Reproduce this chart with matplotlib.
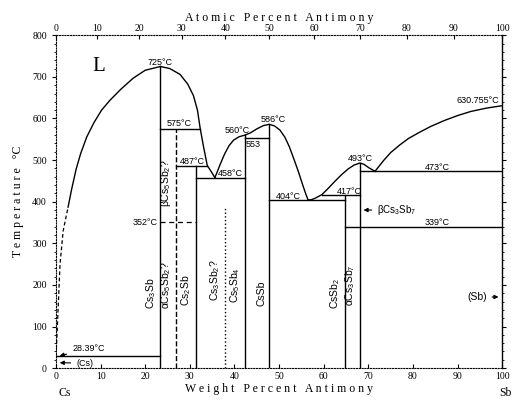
import numpy as np
import matplotlib
matplotlib.use('Agg')
import matplotlib.pyplot as plt

plt.rcParams['mathtext.default'] = 'regular'
SERIF = 'Liberation Serif'
SANS = 'Liberation Sans'

# liquidus curves (wt% Sb, deg C)
liq_dash_wt = [0.0, 0.3, 0.9, 1.6, 2.7]
liq_dash_t = [28.39, 100, 250, 330, 387]
liq1_wt = [2.7, 3.5, 4.5, 5.5, 6.9, 8.5, 10.2, 12.1, 14.5, 17.3, 20.0, 23.4, 25.5, 27.8,
           29.5, 30.8, 31.7, 32.3, 33.1, 33.9, 34.8, 35.6]
liq1_t = [387, 430, 478, 515, 556, 590, 620, 644, 670, 697, 716, 725, 720, 706,
          683, 655, 620, 577, 530, 487, 472, 458]
liq2_wt = [35.6, 36.0, 36.8, 37.8, 38.8, 39.8, 41.0, 42.3, 43.5, 45.0, 46.5, 47.8, 49.0,
           50.2, 51.3, 52.3, 53.3, 54.3, 55.3, 56.0, 56.5]
liq2_t = [458, 468, 490, 515, 535, 548, 556, 560, 565, 575, 583, 586, 582,
          572, 555, 532, 503, 473, 440, 418, 404]
liq3_wt = [56.5, 57.3, 58.2, 59.6, 61.0, 62.5, 64.0, 65.5, 66.8, 68.1, 69.0, 70.2, 71.5]
liq3_t = [404, 405, 409, 417, 432, 449, 465, 479, 488, 493, 490, 481, 473]
liq4_wt = [71.5, 72.3, 73.5, 75.0, 77.0, 79.0, 81.5, 84.0, 87.0, 90.0, 93.0, 96.5, 100.0]
liq4_t = [473, 484, 500, 518, 536, 552, 567, 581, 595, 607, 617, 625, 630.755]

# isotherms: start wt, end wt, temperature
iso_x1 = [0.0, 23.4, 26.8, 31.4, 42.3, 47.8, 59.6, 68.1, 64.7]
iso_x2 = [23.4, 32.3, 33.9, 42.3, 47.8, 64.7, 68.1, 100.0, 100.0]
iso_t = [28.39, 575, 487, 458, 553, 404, 417, 473, 339]

# compounds: wt%, top temperature, line style, label
comp_wt = [23.4, 26.8, 31.4, 37.9, 42.3, 47.8, 64.7, 68.1]
comp_top = [725, 575, 487, 387, 560, 586, 417, 493]
comp_ls = ['-', '--', '-', ':', '-', '-', '-', '-']
comp_lab = ['Cs$_3$Sb', 'αCs$_5$Sb$_2$?', 'Cs$_2$Sb', 'Cs$_3$Sb$_2$?', 'Cs$_5$Sb$_4$',
            'CsSb', 'CsSb$_2$', 'αCs$_3$Sb$_7$']
comp_lab_t = [180, 200, 187, 212, 200, 180, 180, 200]

# temperature labels: wt, temperature, text
lab_wt = [23.4, 27.5, 30.5, 39.0, 40.6, 48.7, 44.2, 52.0, 65.7, 68.2, 85.4, 85.4, 94.5]
lab_t = [735, 587, 497, 468, 570, 598, 538, 413, 425, 505, 483, 349, 644]
lab_txt = ['725°C', '575°C', '487°C', '458°C', '560°C', '586°C', '553', '404°C', '417°C',
           '493°C', '473°C', '339°C', '630.755°C']

at_ticks = np.arange(0, 101, 10)
M_CS, M_SB = 132.905, 121.76


def at2wt(a):
    a = np.asarray(a, dtype=float)
    return 100 * a * M_SB / (a * M_SB + (100 - a) * M_CS)


def wt2at(w):
    w = np.asarray(w, dtype=float)
    return 100 * (w / M_SB) / (w / M_SB + (100 - w) / M_CS)


fig = plt.figure(figsize=(5.14, 4.01), dpi=100)
ax = fig.add_axes([0.109, 0.082, 0.868, 0.830])
ax.set_xlim(0, 100)
ax.set_ylim(0, 800)

lw = 1.0
ax.plot(liq_dash_wt, liq_dash_t, color='k', lw=0.9, ls=(0, (3, 2)))
for xs, ts in [(liq1_wt, liq1_t), (liq2_wt, liq2_t), (liq3_wt, liq3_t), (liq4_wt, liq4_t)]:
    ax.plot(xs, ts, color='k', lw=lw, solid_joinstyle='round')
for x1, x2, t in zip(iso_x1, iso_x2, iso_t):
    ax.plot([x1, x2], [t, t], color='k', lw=lw)
ax.plot([23.4, 31.4], [352, 352], color='k', lw=0.9, ls=(0, (4, 3)))
for w, top, ls in zip(comp_wt, comp_top, comp_ls):
    ax.plot([w, w], [0, top], color='k', lw=lw, ls=ls)

for w, lab, t in zip(comp_wt, comp_lab, comp_lab_t):
    ax.text(w - 0.6, t, lab, rotation=90, ha='right', va='center', fontsize=7.5, family=SANS)
ax.text(26.2, 445, 'βCs$_5$Sb$_2$?', rotation=90, ha='right', va='center', fontsize=7.5, family=SANS)

for w, t, s in zip(lab_wt, lab_t, lab_txt):
    ax.text(w, t, s, ha='center', va='center', fontsize=6.5, family=SANS)
ax.text(22.8, 350, '352°C', ha='right', va='center', fontsize=6.5, family=SANS)
ax.text(9.6, 724, 'L', ha='center', va='center', fontsize=15, family=SERIF)

arrow = dict(arrowstyle='-|>', color='k', lw=0.8, mutation_scale=6)
ax.annotate('28.39°C', xy=(0.2, 28), xytext=(3.6, 46), ha='left', va='center',
            fontsize=6.5, family=SANS, arrowprops=arrow)
ax.annotate('(Cs)', xy=(0.2, 13), xytext=(4.5, 12), ha='left', va='center',
            fontsize=6.5, family=SANS, arrowprops=arrow)
ax.annotate('βCs$_3$Sb$_7$', xy=(68.3, 380), xytext=(72.0, 380), ha='left', va='center',
            fontsize=7, family=SANS, arrowprops=arrow)
ax.annotate('(Sb)', xy=(99.8, 171), xytext=(96.5, 171), ha='right', va='center',
            fontsize=7.5, family=SANS, arrowprops=arrow)

# axes styling
for side in ['left', 'top', 'bottom']:
    ax.spines[side].set_linestyle((0, (1, 1.5)))
    ax.spines[side].set_linewidth(0.8)
ax.spines['right'].set_linewidth(1.0)
ax.set_xticks(np.arange(0, 101, 10))
ax.set_yticks(np.arange(0, 801, 100))
ax.set_yticks(np.arange(0, 801, 20), minor=True)
ax.tick_params(axis='x', direction='in', length=3, labelsize=7, pad=3)
ax.tick_params(axis='y', direction='out', length=3, labelsize=7, right=True)
ax.tick_params(axis='y', which='minor', direction='out', length=1.5, right=True)
for lab in ax.get_xticklabels() + ax.get_yticklabels():
    lab.set_family(SERIF)

top = ax.secondary_xaxis('top', functions=(wt2at, at2wt))
top.set_xticks(at_ticks)
top.tick_params(direction='in', length=3, labelsize=7, pad=2)
for lab in top.get_xticklabels():
    lab.set_family(SERIF)
top.spines['top'].set_visible(False)
top.set_xlabel('A t o m i c   P e r c e n t   A n t i m o n y', family=SERIF, fontsize=8.5, labelpad=2)

ax.set_xlabel('W e i g h t   P e r c e n t   A n t i m o n y', family=SERIF, fontsize=8.5, labelpad=1)
ax.set_ylabel('T e m p e r a t u r e   °C', family=SERIF, fontsize=8.5, labelpad=6)
ax.text(0.6, -0.075, 'Cs', transform=ax.get_xaxis_transform(), ha='left', va='center',
        family=SERIF, fontsize=8.5)
ax.text(99.3, -0.075, 'Sb', transform=ax.get_xaxis_transform(), ha='left', va='center',
        family=SERIF, fontsize=8.5, clip_on=False)

fig.savefig('out.png', dpi=100)
